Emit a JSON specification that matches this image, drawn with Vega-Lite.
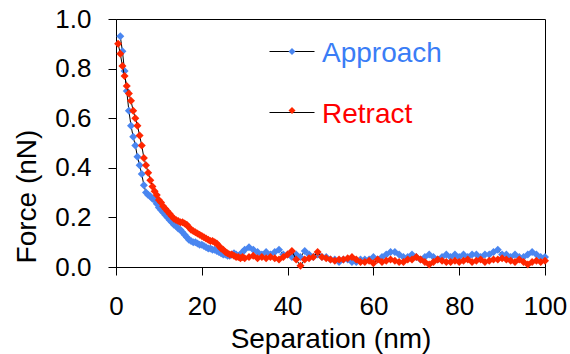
{
"$schema":"https://vega.github.io/schema/vega-lite/v6.json",
"width":429,"height":248,
"autosize":{"type":"none"},
"padding":{"left":116,"top":19,"right":25,"bottom":87},
"background":"white",
"config":{"font":"Liberation Sans","view":{"stroke":"black","strokeWidth":1},
"axis":{"grid":false,"domainColor":"black","tickColor":"black","tickSize":8,"labelColor":"black","labelFontSize":26,"titleFontSize":28,"titleFontWeight":"normal","titleColor":"black","labelFont":"Liberation Sans","titleFont":"Liberation Sans","labelFlush":false,"labelOverlap":false},
"legend":{"labelFont":"Liberation Sans","labelFontSize":28,"padding":0,"rowPadding":31,"symbolSize":225,"labelOffset":16}},
"data":{"values":[
{"s":"Approach","x":1,"f":0.93},{"s":"Approach","x":1.5,"f":0.87},{"s":"Approach","x":2,"f":0.79},{"s":"Approach","x":2.5,"f":0.71},{"s":"Approach","x":3,"f":0.63},{"s":"Approach","x":3.5,"f":0.57},{"s":"Approach","x":4,"f":0.525},{"s":"Approach","x":4.5,"f":0.49},{"s":"Approach","x":5,"f":0.445},{"s":"Approach","x":5.5,"f":0.41},{"s":"Approach","x":6,"f":0.375},{"s":"Approach","x":6.5,"f":0.33},{"s":"Approach","x":7,"f":0.3},{"s":"Approach","x":7.5,"f":0.29},{"s":"Approach","x":8,"f":0.285},{"s":"Approach","x":8.5,"f":0.275},{"s":"Approach","x":9,"f":0.27},{"s":"Approach","x":9.5,"f":0.255},{"s":"Approach","x":10,"f":0.24},{"s":"Approach","x":10.5,"f":0.23},{"s":"Approach","x":11,"f":0.22},{"s":"Approach","x":11.5,"f":0.21},{"s":"Approach","x":12,"f":0.2},{"s":"Approach","x":12.5,"f":0.19},{"s":"Approach","x":13,"f":0.18},{"s":"Approach","x":13.5,"f":0.17},{"s":"Approach","x":14,"f":0.165},{"s":"Approach","x":14.5,"f":0.155},{"s":"Approach","x":15,"f":0.15},{"s":"Approach","x":15.5,"f":0.14},{"s":"Approach","x":16,"f":0.13},{"s":"Approach","x":16.5,"f":0.12},{"s":"Approach","x":17,"f":0.11},{"s":"Approach","x":17.5,"f":0.105},{"s":"Approach","x":18,"f":0.1},{"s":"Approach","x":18.5,"f":0.1},{"s":"Approach","x":19,"f":0.095},{"s":"Approach","x":19.5,"f":0.09},{"s":"Approach","x":20,"f":0.09},{"s":"Approach","x":20.5,"f":0.085},{"s":"Approach","x":21,"f":0.08},{"s":"Approach","x":21.5,"f":0.075},{"s":"Approach","x":22,"f":0.075},{"s":"Approach","x":22.5,"f":0.07},{"s":"Approach","x":23,"f":0.07},{"s":"Approach","x":23.5,"f":0.065},{"s":"Approach","x":24,"f":0.06},{"s":"Approach","x":24.5,"f":0.055},{"s":"Approach","x":25,"f":0.05},{"s":"Approach","x":25.5,"f":0.05},{"s":"Approach","x":26,"f":0.045},{"s":"Approach","x":26.5,"f":0.045},{"s":"Approach","x":27,"f":0.05},{"s":"Approach","x":27.5,"f":0.055},{"s":"Approach","x":28,"f":0.05},{"s":"Approach","x":28.5,"f":0.045},{"s":"Approach","x":29,"f":0.05},{"s":"Approach","x":29.5,"f":0.06},{"s":"Approach","x":30,"f":0.07},
{"s":"Approach","x":31,"f":0.08},{"s":"Approach","x":32,"f":0.07},{"s":"Approach","x":33,"f":0.06},{"s":"Approach","x":34,"f":0.05},{"s":"Approach","x":35,"f":0.06},{"s":"Approach","x":36,"f":0.05},{"s":"Approach","x":37,"f":0.06},{"s":"Approach","x":38,"f":0.07},{"s":"Approach","x":39,"f":0.05},{"s":"Approach","x":40,"f":0.05},{"s":"Approach","x":41,"f":0.04},{"s":"Approach","x":42,"f":0.05},{"s":"Approach","x":43,"f":0.04},{"s":"Approach","x":44,"f":0.065},{"s":"Approach","x":45,"f":0.05},{"s":"Approach","x":46,"f":0.04},{"s":"Approach","x":47,"f":0.05},{"s":"Approach","x":48,"f":0.04},{"s":"Approach","x":49,"f":0.04},{"s":"Approach","x":50,"f":0.03},{"s":"Approach","x":51,"f":0.03},{"s":"Approach","x":52,"f":0.02},{"s":"Approach","x":53,"f":0.03},{"s":"Approach","x":54,"f":0.03},{"s":"Approach","x":55,"f":0.02},{"s":"Approach","x":56,"f":0.02},{"s":"Approach","x":57,"f":0.03},{"s":"Approach","x":58,"f":0.03},{"s":"Approach","x":59,"f":0.03},{"s":"Approach","x":60,"f":0.04},{"s":"Approach","x":61,"f":0.03},{"s":"Approach","x":62,"f":0.04},{"s":"Approach","x":63,"f":0.05},{"s":"Approach","x":64,"f":0.06},{"s":"Approach","x":65,"f":0.06},{"s":"Approach","x":66,"f":0.05},{"s":"Approach","x":67,"f":0.04},{"s":"Approach","x":68,"f":0.04},{"s":"Approach","x":69,"f":0.05},{"s":"Approach","x":70,"f":0.04},{"s":"Approach","x":71,"f":0.03},{"s":"Approach","x":72,"f":0.04},{"s":"Approach","x":73,"f":0.05},{"s":"Approach","x":74,"f":0.04},{"s":"Approach","x":75,"f":0.03},{"s":"Approach","x":76,"f":0.04},{"s":"Approach","x":77,"f":0.05},{"s":"Approach","x":78,"f":0.04},{"s":"Approach","x":79,"f":0.05},{"s":"Approach","x":80,"f":0.04},{"s":"Approach","x":81,"f":0.05},{"s":"Approach","x":82,"f":0.04},{"s":"Approach","x":83,"f":0.05},{"s":"Approach","x":84,"f":0.05},{"s":"Approach","x":85,"f":0.04},{"s":"Approach","x":86,"f":0.05},{"s":"Approach","x":87,"f":0.05},{"s":"Approach","x":88,"f":0.06},{"s":"Approach","x":89,"f":0.07},{"s":"Approach","x":90,"f":0.05},{"s":"Approach","x":91,"f":0.05},{"s":"Approach","x":92,"f":0.04},{"s":"Approach","x":93,"f":0.05},{"s":"Approach","x":94,"f":0.04},{"s":"Approach","x":95,"f":0.04},{"s":"Approach","x":96,"f":0.05},{"s":"Approach","x":97,"f":0.06},{"s":"Approach","x":98,"f":0.05},{"s":"Approach","x":99,"f":0.04},{"s":"Approach","x":100,"f":0.04},
{"s":"Retract","x":0.5,"f":0.9},{"s":"Retract","x":1,"f":0.86},{"s":"Retract","x":1.5,"f":0.81},{"s":"Retract","x":2,"f":0.77},{"s":"Retract","x":2.5,"f":0.73},{"s":"Retract","x":3,"f":0.7},{"s":"Retract","x":3.5,"f":0.67},{"s":"Retract","x":4,"f":0.63},{"s":"Retract","x":4.5,"f":0.6},{"s":"Retract","x":5,"f":0.57},{"s":"Retract","x":5.5,"f":0.53},{"s":"Retract","x":6,"f":0.49},{"s":"Retract","x":6.5,"f":0.44},{"s":"Retract","x":7,"f":0.41},{"s":"Retract","x":7.5,"f":0.38},{"s":"Retract","x":8,"f":0.35},{"s":"Retract","x":8.5,"f":0.325},{"s":"Retract","x":9,"f":0.305},{"s":"Retract","x":9.5,"f":0.29},{"s":"Retract","x":10,"f":0.27},{"s":"Retract","x":10.5,"f":0.26},{"s":"Retract","x":11,"f":0.245},{"s":"Retract","x":11.5,"f":0.235},{"s":"Retract","x":12,"f":0.225},{"s":"Retract","x":12.5,"f":0.215},{"s":"Retract","x":13,"f":0.205},{"s":"Retract","x":13.5,"f":0.195},{"s":"Retract","x":14,"f":0.19},{"s":"Retract","x":14.5,"f":0.185},{"s":"Retract","x":15,"f":0.18},{"s":"Retract","x":15.5,"f":0.18},{"s":"Retract","x":16,"f":0.175},{"s":"Retract","x":16.5,"f":0.17},{"s":"Retract","x":17,"f":0.16},{"s":"Retract","x":17.5,"f":0.15},{"s":"Retract","x":18,"f":0.145},{"s":"Retract","x":18.5,"f":0.14},{"s":"Retract","x":19,"f":0.135},{"s":"Retract","x":19.5,"f":0.13},{"s":"Retract","x":20,"f":0.125},{"s":"Retract","x":20.5,"f":0.12},{"s":"Retract","x":21,"f":0.115},{"s":"Retract","x":21.5,"f":0.11},{"s":"Retract","x":22,"f":0.105},{"s":"Retract","x":22.5,"f":0.105},{"s":"Retract","x":23,"f":0.1},{"s":"Retract","x":23.5,"f":0.095},{"s":"Retract","x":24,"f":0.085},{"s":"Retract","x":24.5,"f":0.075},{"s":"Retract","x":25,"f":0.07},{"s":"Retract","x":25.5,"f":0.06},{"s":"Retract","x":26,"f":0.055},{"s":"Retract","x":26.5,"f":0.05},{"s":"Retract","x":27,"f":0.05},{"s":"Retract","x":27.5,"f":0.045},{"s":"Retract","x":28,"f":0.04},{"s":"Retract","x":28.5,"f":0.04},{"s":"Retract","x":29,"f":0.035},{"s":"Retract","x":29.5,"f":0.04},{"s":"Retract","x":30,"f":0.035},
{"s":"Retract","x":31,"f":0.04},{"s":"Retract","x":32,"f":0.045},{"s":"Retract","x":33,"f":0.035},{"s":"Retract","x":34,"f":0.04},{"s":"Retract","x":35,"f":0.035},{"s":"Retract","x":36,"f":0.04},{"s":"Retract","x":37,"f":0.035},{"s":"Retract","x":38,"f":0.03},{"s":"Retract","x":39,"f":0.04},{"s":"Retract","x":40,"f":0.05},{"s":"Retract","x":41,"f":0.065},{"s":"Retract","x":42,"f":0.03},{"s":"Retract","x":43,"f":0.005},{"s":"Retract","x":44,"f":0.03},{"s":"Retract","x":45,"f":0.035},{"s":"Retract","x":46,"f":0.04},{"s":"Retract","x":47,"f":0.06},{"s":"Retract","x":48,"f":0.04},{"s":"Retract","x":49,"f":0.035},{"s":"Retract","x":50,"f":0.03},{"s":"Retract","x":51,"f":0.025},{"s":"Retract","x":52,"f":0.03},{"s":"Retract","x":53,"f":0.03},{"s":"Retract","x":54,"f":0.035},{"s":"Retract","x":55,"f":0.04},{"s":"Retract","x":56,"f":0.03},{"s":"Retract","x":57,"f":0.02},{"s":"Retract","x":58,"f":0.02},{"s":"Retract","x":59,"f":0.025},{"s":"Retract","x":60,"f":0.015},{"s":"Retract","x":61,"f":0.03},{"s":"Retract","x":62,"f":0.02},{"s":"Retract","x":63,"f":0.025},{"s":"Retract","x":64,"f":0.03},{"s":"Retract","x":65,"f":0.025},{"s":"Retract","x":66,"f":0.02},{"s":"Retract","x":67,"f":0.02},{"s":"Retract","x":68,"f":0.03},{"s":"Retract","x":69,"f":0.03},{"s":"Retract","x":70,"f":0.04},{"s":"Retract","x":71,"f":0.03},{"s":"Retract","x":72,"f":0.02},{"s":"Retract","x":73,"f":0.01},{"s":"Retract","x":74,"f":0.02},{"s":"Retract","x":75,"f":0.03},{"s":"Retract","x":76,"f":0.025},{"s":"Retract","x":77,"f":0.02},{"s":"Retract","x":78,"f":0.02},{"s":"Retract","x":79,"f":0.025},{"s":"Retract","x":80,"f":0.02},{"s":"Retract","x":81,"f":0.025},{"s":"Retract","x":82,"f":0.03},{"s":"Retract","x":83,"f":0.02},{"s":"Retract","x":84,"f":0.025},{"s":"Retract","x":85,"f":0.03},{"s":"Retract","x":86,"f":0.02},{"s":"Retract","x":87,"f":0.025},{"s":"Retract","x":88,"f":0.03},{"s":"Retract","x":89,"f":0.03},{"s":"Retract","x":90,"f":0.035},{"s":"Retract","x":91,"f":0.03},{"s":"Retract","x":92,"f":0.025},{"s":"Retract","x":93,"f":0.02},{"s":"Retract","x":94,"f":0.03},{"s":"Retract","x":95,"f":0.02},{"s":"Retract","x":96,"f":0.01},{"s":"Retract","x":97,"f":0.02},{"s":"Retract","x":98,"f":0.025},{"s":"Retract","x":99,"f":0.02},{"s":"Retract","x":100,"f":0.025}
]},
"encoding":{
"x":{"field":"x","type":"quantitative","scale":{"domain":[0,100],"nice":false},"axis":{"title":"Separation (nm)","values":[0,20,40,60,80,100],"labelPadding":18,"titlePadding":6}},
"y":{"field":"f","type":"quantitative","scale":{"domain":[0,1],"nice":false},"axis":{"title":"Force (nN)","values":[0,0.2,0.4,0.6,0.8,1],"format":".1f","labelPadding":17,"titleX":-81,"titleY":177,"titleAngle":-90,"titleAlign":"center","titleBaseline":"alphabetic"}}
},
"layer":[
{"transform":[{"filter":"datum.s === 'Approach'"}],"mark":{"type":"line","strokeWidth":1},
"encoding":{"stroke":{"field":"s","type":"nominal","scale":{"domain":["Approach","Retract"],"range":["#000000","#000000"]},"legend":{"orient":"none","legendX":162,"legendY":18.5,"title":null,"symbolType":"M-3,0H3","symbolStrokeWidth":1.2,"encode":{"labels":{"update":{"fill":{"signal":"datum.value === 'Approach' ? '#3A7DF6' : '#FF0000'"},"dy":{"value":2}}}}}}}},
{"transform":[{"filter":"datum.s === 'Approach'"}],"mark":{"type":"point","shape":"diamond","filled":true,"size":64,"opacity":1},
"encoding":{"fill":{"field":"s","type":"nominal","scale":{"range":["#4A86F0","#FF2600"]},"legend":{"orient":"none","legendX":162,"legendY":18.5,"title":null,"symbolType":"M-0.47,0L0,-0.47L0.47,0L0,0.47Z","symbolStrokeWidth":0,"symbolOpacity":1,"labelExpr":"''"}}}},
{"transform":[{"filter":"datum.s === 'Retract'"}],"mark":{"type":"line","strokeWidth":1},
"encoding":{"stroke":{"field":"s","type":"nominal"}}},
{"transform":[{"filter":"datum.s === 'Retract'"}],"mark":{"type":"point","shape":"diamond","filled":true,"size":64,"opacity":1},
"encoding":{"fill":{"field":"s","type":"nominal"}}}
]
}
